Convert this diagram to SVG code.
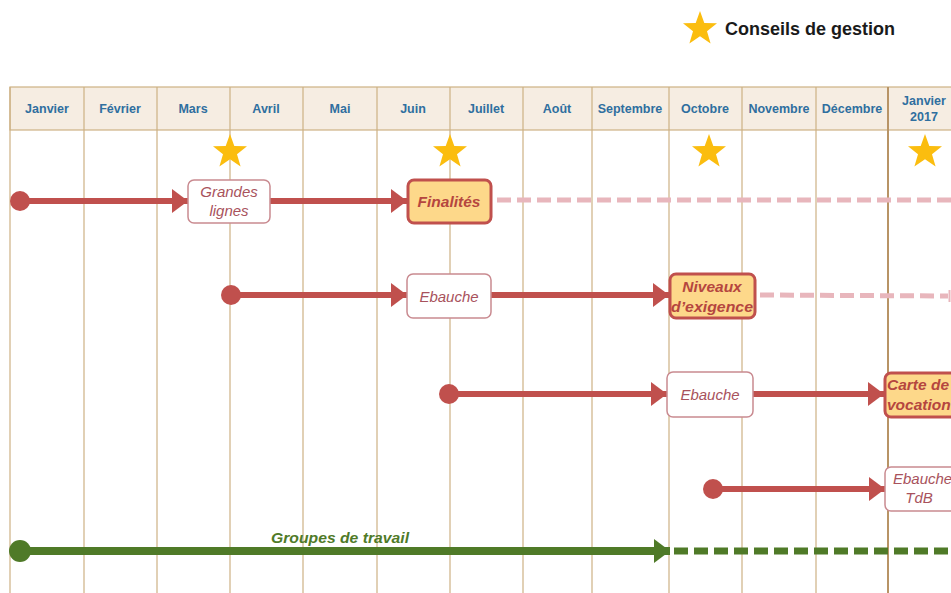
<svg xmlns="http://www.w3.org/2000/svg" width="951" height="593" viewBox="0 0 951 593">
<style>
.hdr{font-family:"Liberation Sans",Arial,sans-serif;font-size:12.5px;font-weight:bold;fill:#2f6f9f;text-anchor:middle}
.vl{stroke:#cdb184;stroke-width:1.2}
.lw{font-family:"Liberation Sans",Arial,sans-serif;font-size:15px;font-style:italic;fill:#a8525c}
.ly{font-family:"Liberation Sans",Arial,sans-serif;font-size:15.5px;font-style:italic;font-weight:bold;fill:#b5463f}
.c{text-anchor:middle}
.s{text-anchor:start}
.bw{fill:#ffffff;stroke:#c98a90;stroke-width:1.5}
.by{fill:#fdd88a;stroke:#c0504d;stroke-width:3}
.rl{stroke:#c0504d;stroke-width:6;fill:none}
.gl{stroke:#4f7a28;stroke-width:8;fill:none}
.pd{stroke:#e8b6bc;stroke-width:5;stroke-dasharray:14 6;fill:none}
.gd{stroke:#4f7a28;stroke-width:7;stroke-dasharray:14 6;fill:none}
.star{fill:#fbbd0f}
</style>
<defs>
<marker id="ar" markerUnits="userSpaceOnUse" markerWidth="17" markerHeight="26" refX="16" refY="13" orient="auto"><path d="M0,1 L16,13 L0,25 Z" fill="#c0504d"/></marker>
<marker id="ag" markerUnits="userSpaceOnUse" markerWidth="17" markerHeight="26" refX="16" refY="13" orient="auto"><path d="M0,1 L16,13 L0,25 Z" fill="#4f7a28"/></marker>
<path id="st" d="M0,-18 L4.3,-6 L17,-5.7 L7,2.3 L10.6,14.5 L0,7.3 L-10.6,14.5 L-7,2.3 L-17,-5.7 L-4.3,-6 Z"/>
</defs>
<rect width="951" height="593" fill="#ffffff"/>
<g id="legend">
<use href="#st" x="700" y="29" class="star"/>
<text x="725" y="35" font-family="Liberation Sans,Arial,sans-serif" font-size="18" font-weight="bold" fill="#1a1a1a">Conseils de gestion</text>
</g>
<g id="grid">
<rect x="10" y="87" width="950" height="43" fill="#f6ede2" stroke="#cdb184" stroke-width="1.2"/>
<g class="vl">
<line x1="10" y1="87" x2="10" y2="593"/>
<line x1="84" y1="87" x2="84" y2="593"/>
<line x1="157" y1="87" x2="157" y2="593"/>
<line x1="230" y1="87" x2="230" y2="593"/>
<line x1="303" y1="87" x2="303" y2="593"/>
<line x1="377" y1="87" x2="377" y2="593"/>
<line x1="450" y1="87" x2="450" y2="593"/>
<line x1="523" y1="87" x2="523" y2="593"/>
<line x1="592" y1="87" x2="592" y2="593"/>
<line x1="669" y1="87" x2="669" y2="593"/>
<line x1="742" y1="87" x2="742" y2="593"/>
<line x1="816" y1="87" x2="816" y2="593"/>
</g>
<line x1="888" y1="87" x2="888" y2="593" stroke="#b89466" stroke-width="2"/>
<text class="hdr" x="47" y="113">Janvier</text>
<text class="hdr" x="120" y="113">Février</text>
<text class="hdr" x="193" y="113">Mars</text>
<text class="hdr" x="266" y="113">Avril</text>
<text class="hdr" x="340" y="113">Mai</text>
<text class="hdr" x="413" y="113">Juin</text>
<text class="hdr" x="486" y="113">Juillet</text>
<text class="hdr" x="557" y="113">Août</text>
<text class="hdr" x="630" y="113">Septembre</text>
<text class="hdr" x="705" y="113">Octobre</text>
<text class="hdr" x="779" y="113">Novembre</text>
<text class="hdr" x="852" y="113">Décembre</text>
<text class="hdr" x="924" y="105">Janvier</text>
<text class="hdr" x="924" y="121">2017</text>
</g>
<g id="stars">
<use href="#st" x="230" y="152" class="star"/>
<use href="#st" x="450" y="152" class="star"/>
<use href="#st" x="709" y="152" class="star"/>
<use href="#st" x="925" y="152" class="star"/>
</g>
<g id="connectors">
<circle cx="20" cy="201" r="10" fill="#c0504d"/>
<line class="rl" x1="20" y1="201" x2="188" y2="201" marker-end="url(#ar)"/>
<line class="rl" x1="270" y1="201" x2="407" y2="201" marker-end="url(#ar)"/>
<line class="pd" x1="497" y1="200" x2="951" y2="200"/>
<circle cx="231" cy="295" r="10" fill="#c0504d"/>
<line class="rl" x1="231" y1="295" x2="407" y2="295" marker-end="url(#ar)"/>
<line class="rl" x1="491" y1="295" x2="669" y2="295" marker-end="url(#ar)"/>
<line class="pd" x1="760" y1="295" x2="948" y2="296"/>
<line x1="949.5" y1="290" x2="949.5" y2="302" stroke="#e8b6bc" stroke-width="2"/>
<circle cx="449" cy="394" r="10" fill="#c0504d"/>
<line class="rl" x1="449" y1="394" x2="667" y2="394" marker-end="url(#ar)"/>
<line class="rl" x1="753" y1="394" x2="884" y2="394" marker-end="url(#ar)"/>
<circle cx="713" cy="489" r="10" fill="#c0504d"/>
<line class="rl" x1="713" y1="489" x2="885" y2="489" marker-end="url(#ar)"/>
<circle cx="20" cy="551" r="11" fill="#4f7a28"/>
<line class="gl" x1="20" y1="551" x2="670" y2="551" marker-end="url(#ag)"/>
<line class="gd" x1="674" y1="551" x2="951" y2="551"/>
<text x="340" y="543" font-family="Liberation Sans,Arial,sans-serif" font-size="15.5" font-style="italic" font-weight="bold" fill="#4f7a28" text-anchor="middle" textLength="138" lengthAdjust="spacingAndGlyphs">Groupes de travail</text>
</g>
<g id="grandes-lignes">
<rect class="bw" x="188" y="180" width="82" height="43" rx="6"/>
<text class="lw c" x="229" y="197">Grandes</text>
<text class="lw c" x="229" y="216">lignes</text>
</g>
<g id="finalites">
<rect class="by" x="408" y="180" width="83" height="43" rx="6"/>
<text class="ly c" x="449" y="207">Finalités</text>
</g>
<g id="ebauche-1">
<rect class="bw" x="407" y="274" width="84" height="44" rx="6"/>
<text class="lw c" x="449" y="302">Ebauche</text>
</g>
<g id="niveaux">
<rect class="by" x="670" y="274" width="85" height="44" rx="6"/>
<text class="ly c" x="712" y="292">Niveaux</text>
<text class="ly c" x="712" y="312" textLength="82" lengthAdjust="spacingAndGlyphs">d’exigence</text>
</g>
<g id="ebauche-2">
<rect class="bw" x="667" y="372" width="86" height="45" rx="6"/>
<text class="lw c" x="710" y="400">Ebauche</text>
</g>
<g id="carte">
<rect class="by" x="885" y="373" width="80" height="44" rx="6"/>
<text class="ly s" x="887" y="390">Carte de</text>
<text class="ly s" x="887" y="410">vocation</text>
</g>
<g id="ebauche-tdb">
<rect class="bw" x="885" y="467" width="80" height="44" rx="6"/>
<text class="lw s" x="893" y="484">Ebauche</text>
<text class="lw c" x="919" y="503">TdB</text>
</g>
</svg>
